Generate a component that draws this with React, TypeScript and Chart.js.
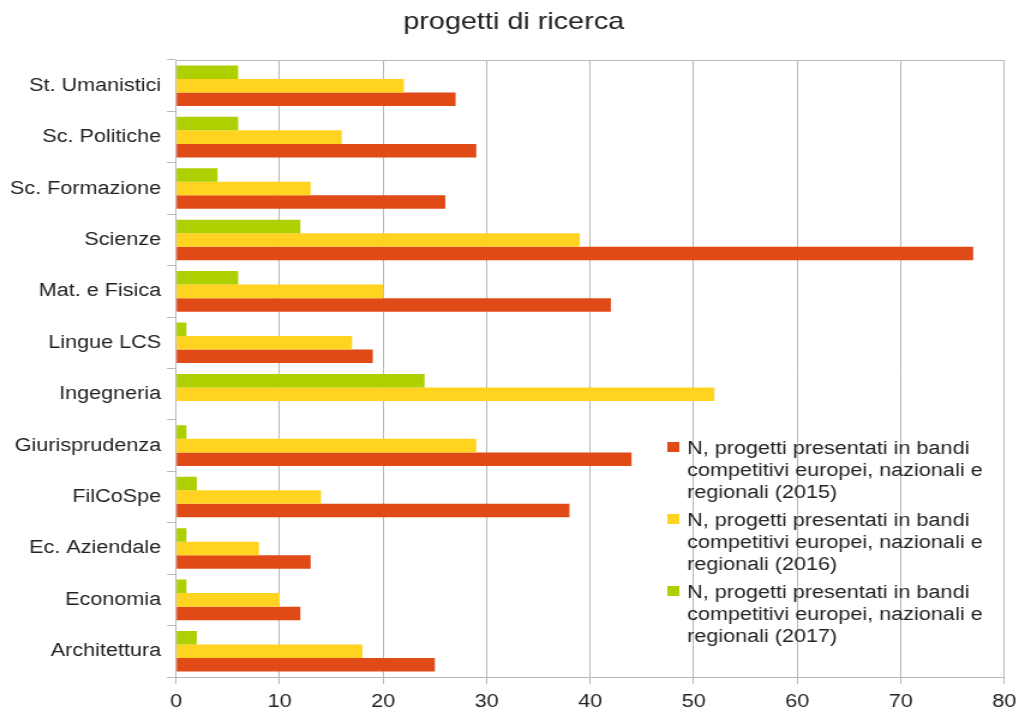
import React, { useEffect, useRef } from "react";
import { Chart, registerables } from "chart.js";

Chart.register(...registerables);

const categories = [
  "St. Umanistici",
  "Sc. Politiche",
  "Sc. Formazione",
  "Scienze",
  "Mat. e Fisica",
  "Lingue LCS",
  "Ingegneria",
  "Giurisprudenza",
  "FilCoSpe",
  "Ec. Aziendale",
  "Economia",
  "Architettura",
];

const values2015 = [27, 29, 26, 77, 42, 19, 0, 44, 38, 13, 12, 25];
const values2016 = [22, 16, 13, 39, 20, 17, 52, 29, 14, 8, 10, 18];
const values2017 = [6, 6, 4, 12, 6, 1, 24, 1, 2, 1, 1, 2];

const seriesNames = [
  "N, progetti presentati in bandi competitivi europei, nazionali e regionali (2015)",
  "N, progetti presentati in bandi competitivi europei, nazionali e regionali (2016)",
  "N, progetti presentati in bandi competitivi europei, nazionali e regionali (2017)",
];
const legendLines = [
  ["N, progetti presentati in bandi", "competitivi europei, nazionali e", "regionali (2015)"],
  ["N, progetti presentati in bandi", "competitivi europei, nazionali e", "regionali (2016)"],
  ["N, progetti presentati in bandi", "competitivi europei, nazionali e", "regionali (2017)"],
];

const chartTitle = "progetti di ricerca";

const xTickMin = 0;
const xTickMax = 80;
const xTickStep = 10;

const COLORS = ["#df4a16", "#ffd320", "#aecf00"];
const GRID = "#b8b8b8";
const TEXT = "#222222";
const FONT = "'Liberation Sans', Arial, sans-serif";

const CANVAS_W = 849;
const CANVAS_H = 713;

export default function App() {
  const ref = useRef<HTMLCanvasElement | null>(null);

  useEffect(() => {
    document.body.style.margin = "0";
    const canvas = ref.current;
    if (!canvas) return;

    const topLinePlugin = {
      id: "topLine",
      afterDatasetsDraw(chart: any) {
        const { ctx, chartArea } = chart;
        ctx.save();
        ctx.strokeStyle = GRID;
        ctx.lineWidth = 1;
        ctx.beginPath();
        ctx.moveTo(chartArea.left, chartArea.top + 0.5);
        ctx.lineTo(chartArea.right, chartArea.top + 0.5);
        ctx.stroke();
        ctx.restore();
      },
    };

    const titlePlugin = {
      id: "customTitle",
      afterDraw(chart: any) {
        const { ctx } = chart;
        ctx.save();
        ctx.font = `24px ${FONT}`;
        ctx.fillStyle = TEXT;
        ctx.textAlign = "center";
        ctx.textBaseline = "middle";
        ctx.fillText(chartTitle, 428, 22);
        ctx.restore();
      },
    };

    const legendPlugin = {
      id: "customLegend",
      afterDraw(chart: any) {
        const { ctx } = chart;
        ctx.save();
        ctx.font = `18px ${FONT}`;
        ctx.textBaseline = "middle";
        ctx.textAlign = "left";
        const x0 = 556;
        const textX = 572.5;
        const firstY = 449;
        const entryGap = 72;
        const lineGap = 22;
        legendLines.forEach((lines, i) => {
          const y = firstY + i * entryGap;
          ctx.fillStyle = COLORS[i];
          ctx.fillRect(x0, y - 7, 10, 10);
          ctx.fillStyle = TEXT;
          lines.forEach((ln, j) => {
            ctx.fillText(ln, textX, y + j * lineGap);
          });
        });
        ctx.restore();
      },
    };

    const chart = new Chart(canvas, {
      type: "bar",
      data: {
        labels: categories,
        datasets: [
          {
            label: seriesNames[2],
            data: values2017,
            backgroundColor: COLORS[2],
            borderWidth: 0,
          },
          {
            label: seriesNames[1],
            data: values2016,
            backgroundColor: COLORS[1],
            borderWidth: 0,
          },
          {
            label: seriesNames[0],
            data: values2015,
            backgroundColor: COLORS[0],
            borderWidth: 0,
          },
        ],
      },
      options: {
        indexAxis: "y",
        responsive: false,
        maintainAspectRatio: false,
        devicePixelRatio: 1,
        animation: false,
        layout: { padding: { left: 0, right: 12.3, top: 60, bottom: 0 } },
        datasets: {
          bar: { categoryPercentage: 0.79, barPercentage: 1.0 },
        },
        plugins: {
          legend: { display: false },
          tooltip: { enabled: false },
          title: { display: false },
        },
        scales: {
          x: {
            type: "linear",
            min: xTickMin,
            max: xTickMax,
            ticks: {
              stepSize: xTickStep,
              color: TEXT,
              font: { family: FONT, size: 18 },
              padding: 7,
              maxRotation: 0,
            },
            grid: {
              color: GRID,
              lineWidth: 1,
              drawTicks: true,
              tickLength: 7,
            },
            border: { display: true, color: GRID },
            afterFit(scale: any) {
              scale.height = 36;
              scale.paddingRight = 0;
              scale.paddingLeft = 0;
            },
          },
          y: {
            type: "category",
            ticks: {
              color: TEXT,
              font: { family: FONT, size: 18 },
              padding: 5,
            },
            grid: {
              offset: true,
              drawOnChartArea: false,
              drawTicks: true,
              tickLength: 7.5,
              color: GRID,
            },
            border: { display: true, color: GRID },
            afterFit(scale: any) {
              scale.width = 146.7;
              scale.paddingTop = 0;
              scale.paddingBottom = 0;
            },
          },
        },
      },
      plugins: [topLinePlugin, titlePlugin, legendPlugin],
    } as any);

    return () => {
      chart.destroy();
    };
  }, []);

  return (
    <canvas
      ref={ref}
      width={CANVAS_W}
      height={CANVAS_H}
      style={{ width: "1019px", height: "713px", display: "block" }}
    />
  );
}
